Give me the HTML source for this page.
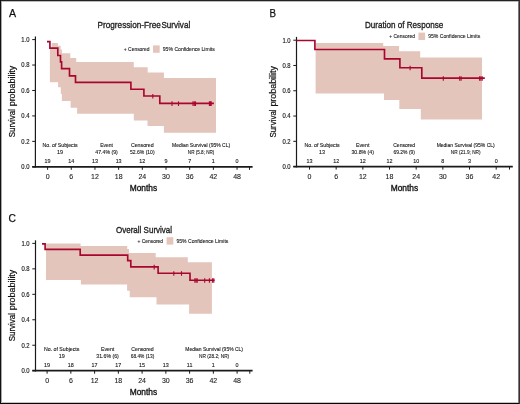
<!DOCTYPE html>
<html><head><meta charset="utf-8"><style>
html,body{margin:0;padding:0;background:#fff;width:520px;height:404px;overflow:hidden;}
svg{display:block;font-family:"Liberation Sans", sans-serif;will-change:transform;}
</style></head><body>
<svg width="520" height="404" viewBox="0 0 520 404" font-family='"Liberation Sans", sans-serif'>
<rect x="0" y="0" width="520" height="404" fill="#fff"/>
<polygon points="49.9,82.2 49.9,47.9 51.7,47.9 51.7,43.1 57.9,43.1 57.9,45.8 60.6,45.8 60.6,49.4 61.9,49.4 61.9,53.2 70.3,53.2 70.3,58 76.2,58 76.2,62 133.8,62 133.8,67.3 147.7,67.3 147.7,72.6 163.9,72.6 163.9,78 216,78 216,132.8 163.9,132.8 163.9,125.9 147.5,125.9 147.5,120.4 133.8,120.4 133.8,113.8 77.1,113.8 77.1,107.7 70.6,107.7 70.6,100.9 61.9,100.9 61.9,94 60.8,94 60.8,87.3 58.1,87.3 58.1,82.2" fill="#e4c5bb"/>
<line x1="35.4" y1="36.4" x2="35.4" y2="167.60000000000002" stroke="#1a1a1a" stroke-width="1.2"/>
<line x1="32.199999999999996" y1="166.8" x2="252.6" y2="166.8" stroke="#1a1a1a" stroke-width="1.7"/>
<line x1="32.199999999999996" y1="39.60" x2="35.4" y2="39.60" stroke="#1a1a1a" stroke-width="1"/>
<text x="29.5" y="41.9" font-size="6.6" text-anchor="end" fill="#1a1a1a" stroke="#1a1a1a" stroke-width="0.15" textLength="8.2" lengthAdjust="spacingAndGlyphs">1.0</text>
<line x1="32.199999999999996" y1="65.04" x2="35.4" y2="65.04" stroke="#1a1a1a" stroke-width="1"/>
<text x="29.5" y="67.34" font-size="6.6" text-anchor="end" fill="#1a1a1a" stroke="#1a1a1a" stroke-width="0.15" textLength="8.2" lengthAdjust="spacingAndGlyphs">0.8</text>
<line x1="32.199999999999996" y1="90.48" x2="35.4" y2="90.48" stroke="#1a1a1a" stroke-width="1"/>
<text x="29.5" y="92.78000000000002" font-size="6.6" text-anchor="end" fill="#1a1a1a" stroke="#1a1a1a" stroke-width="0.15" textLength="8.2" lengthAdjust="spacingAndGlyphs">0.6</text>
<line x1="32.199999999999996" y1="115.92" x2="35.4" y2="115.92" stroke="#1a1a1a" stroke-width="1"/>
<text x="29.5" y="118.22000000000001" font-size="6.6" text-anchor="end" fill="#1a1a1a" stroke="#1a1a1a" stroke-width="0.15" textLength="8.2" lengthAdjust="spacingAndGlyphs">0.4</text>
<line x1="32.199999999999996" y1="141.36" x2="35.4" y2="141.36" stroke="#1a1a1a" stroke-width="1"/>
<text x="29.5" y="143.66000000000003" font-size="6.6" text-anchor="end" fill="#1a1a1a" stroke="#1a1a1a" stroke-width="0.15" textLength="8.2" lengthAdjust="spacingAndGlyphs">0.2</text>
<line x1="32.199999999999996" y1="166.80" x2="35.4" y2="166.80" stroke="#1a1a1a" stroke-width="1"/>
<text x="29.5" y="169.10000000000002" font-size="6.6" text-anchor="end" fill="#1a1a1a" stroke="#1a1a1a" stroke-width="0.15" textLength="8.2" lengthAdjust="spacingAndGlyphs">0.0</text>
<line x1="47.60" y1="166.8" x2="47.60" y2="169.8" stroke="#1a1a1a" stroke-width="1"/>
<text x="47.60" y="178.9" font-size="7.0" text-anchor="middle" fill="#1a1a1a" stroke="#1a1a1a" stroke-width="0.1">0</text>
<line x1="71.28" y1="166.8" x2="71.28" y2="169.8" stroke="#1a1a1a" stroke-width="1"/>
<text x="71.28" y="178.9" font-size="7.0" text-anchor="middle" fill="#1a1a1a" stroke="#1a1a1a" stroke-width="0.1">6</text>
<line x1="94.96" y1="166.8" x2="94.96" y2="169.8" stroke="#1a1a1a" stroke-width="1"/>
<text x="94.96" y="178.9" font-size="7.0" text-anchor="middle" fill="#1a1a1a" stroke="#1a1a1a" stroke-width="0.1">12</text>
<line x1="118.64" y1="166.8" x2="118.64" y2="169.8" stroke="#1a1a1a" stroke-width="1"/>
<text x="118.64" y="178.9" font-size="7.0" text-anchor="middle" fill="#1a1a1a" stroke="#1a1a1a" stroke-width="0.1">18</text>
<line x1="142.32" y1="166.8" x2="142.32" y2="169.8" stroke="#1a1a1a" stroke-width="1"/>
<text x="142.32" y="178.9" font-size="7.0" text-anchor="middle" fill="#1a1a1a" stroke="#1a1a1a" stroke-width="0.1">24</text>
<line x1="166.00" y1="166.8" x2="166.00" y2="169.8" stroke="#1a1a1a" stroke-width="1"/>
<text x="166.00" y="178.9" font-size="7.0" text-anchor="middle" fill="#1a1a1a" stroke="#1a1a1a" stroke-width="0.1">30</text>
<line x1="189.68" y1="166.8" x2="189.68" y2="169.8" stroke="#1a1a1a" stroke-width="1"/>
<text x="189.68" y="178.9" font-size="7.0" text-anchor="middle" fill="#1a1a1a" stroke="#1a1a1a" stroke-width="0.1">36</text>
<line x1="213.36" y1="166.8" x2="213.36" y2="169.8" stroke="#1a1a1a" stroke-width="1"/>
<text x="213.36" y="178.9" font-size="7.0" text-anchor="middle" fill="#1a1a1a" stroke="#1a1a1a" stroke-width="0.1">42</text>
<line x1="237.04" y1="166.8" x2="237.04" y2="169.8" stroke="#1a1a1a" stroke-width="1"/>
<text x="237.04" y="178.9" font-size="7.0" text-anchor="middle" fill="#1a1a1a" stroke="#1a1a1a" stroke-width="0.1">48</text>
<line x1="249.5" y1="166.8" x2="249.5" y2="169.8" stroke="#1a1a1a" stroke-width="1"/>
<text x="47.60" y="162.70000000000002" font-size="5.4" text-anchor="middle" fill="#1a1a1a" stroke="#1a1a1a" stroke-width="0.12">19</text>
<text x="71.28" y="162.70000000000002" font-size="5.4" text-anchor="middle" fill="#1a1a1a" stroke="#1a1a1a" stroke-width="0.12">14</text>
<text x="94.96" y="162.70000000000002" font-size="5.4" text-anchor="middle" fill="#1a1a1a" stroke="#1a1a1a" stroke-width="0.12">13</text>
<text x="118.64" y="162.70000000000002" font-size="5.4" text-anchor="middle" fill="#1a1a1a" stroke="#1a1a1a" stroke-width="0.12">13</text>
<text x="142.32" y="162.70000000000002" font-size="5.4" text-anchor="middle" fill="#1a1a1a" stroke="#1a1a1a" stroke-width="0.12">12</text>
<text x="166.00" y="162.70000000000002" font-size="5.4" text-anchor="middle" fill="#1a1a1a" stroke="#1a1a1a" stroke-width="0.12">9</text>
<text x="189.68" y="162.70000000000002" font-size="5.4" text-anchor="middle" fill="#1a1a1a" stroke="#1a1a1a" stroke-width="0.12">7</text>
<text x="213.36" y="162.70000000000002" font-size="5.4" text-anchor="middle" fill="#1a1a1a" stroke="#1a1a1a" stroke-width="0.12">1</text>
<text x="237.04" y="162.70000000000002" font-size="5.4" text-anchor="middle" fill="#1a1a1a" stroke="#1a1a1a" stroke-width="0.12">0</text>
<text x="60.1" y="147.10000000000002" font-size="5.3" text-anchor="middle" fill="#1a1a1a" stroke="#1a1a1a" stroke-width="0.12" textLength="35.2" lengthAdjust="spacingAndGlyphs">No. of Subjects</text>
<text x="60.1" y="153.9" font-size="5.4" text-anchor="middle" fill="#1a1a1a" stroke="#1a1a1a" stroke-width="0.12">19</text>
<text x="106.6" y="147.10000000000002" font-size="5.3" text-anchor="middle" fill="#1a1a1a" stroke="#1a1a1a" stroke-width="0.12" textLength="12.8" lengthAdjust="spacingAndGlyphs">Event</text>
<text x="106.6" y="153.9" font-size="5.4" text-anchor="middle" fill="#1a1a1a" stroke="#1a1a1a" stroke-width="0.12" textLength="22.5" lengthAdjust="spacingAndGlyphs">47.4% (9)</text>
<text x="142.3" y="147.10000000000002" font-size="5.3" text-anchor="middle" fill="#1a1a1a" stroke="#1a1a1a" stroke-width="0.12" textLength="22.8" lengthAdjust="spacingAndGlyphs">Censored</text>
<text x="142.3" y="153.9" font-size="5.4" text-anchor="middle" fill="#1a1a1a" stroke="#1a1a1a" stroke-width="0.12" textLength="24.6" lengthAdjust="spacingAndGlyphs">52.6% (10)</text>
<text x="201.1" y="147.10000000000002" font-size="5.3" text-anchor="middle" fill="#1a1a1a" stroke="#1a1a1a" stroke-width="0.12" textLength="58.1" lengthAdjust="spacingAndGlyphs">Median Survival (95% CL)</text>
<text x="201.1" y="153.9" font-size="5.4" text-anchor="middle" fill="#1a1a1a" stroke="#1a1a1a" stroke-width="0.12" textLength="26.5" lengthAdjust="spacingAndGlyphs">NR (5.8; NR)</text>
<g transform="translate(0,0.25)">
<path d="M47,41.4 H49.9 V47.9 H57.8 V55.2 H60.5 V61.6 H61.6 V68.4 H69.5 V75.6 H75.5 V82.1 H130.9 V89 H143.9 V95.7 H159.8 V103.1 H213.9" fill="none" stroke="#a8062f" stroke-width="1.65" stroke-linejoin="miter"/>
<line x1="152.8" y1="93.7" x2="152.8" y2="98.3" stroke="#a8062f" stroke-width="1.1"/>
<line x1="172" y1="101.1" x2="172" y2="105.69999999999999" stroke="#a8062f" stroke-width="1.1"/>
<line x1="178.5" y1="101.1" x2="178.5" y2="105.69999999999999" stroke="#a8062f" stroke-width="1.1"/>
<line x1="193" y1="101.1" x2="193" y2="105.69999999999999" stroke="#a8062f" stroke-width="1.1"/>
<line x1="194.3" y1="101.1" x2="194.3" y2="105.69999999999999" stroke="#a8062f" stroke-width="1.1"/>
<line x1="195.5" y1="101.1" x2="195.5" y2="105.69999999999999" stroke="#a8062f" stroke-width="1.1"/>
<line x1="209.4" y1="101.1" x2="209.4" y2="105.69999999999999" stroke="#a8062f" stroke-width="1.1"/>
<line x1="210.4" y1="101.1" x2="210.4" y2="105.69999999999999" stroke="#a8062f" stroke-width="1.1"/>
<line x1="211.2" y1="101.1" x2="211.2" y2="105.69999999999999" stroke="#a8062f" stroke-width="1.1"/>
</g>
<text x="97.6" y="28.4" font-size="9.8" text-anchor="start" fill="#222" stroke="#222" stroke-width="0.35" textLength="63.2" lengthAdjust="spacingAndGlyphs">Progression-Free</text>
<text x="161.4" y="28.4" font-size="9.8" text-anchor="start" fill="#222" stroke="#222" stroke-width="0.35" textLength="28.8" lengthAdjust="spacingAndGlyphs">Survival</text>
<text x="9.0" y="17.3" font-size="11.0" text-anchor="start" fill="#111" stroke="#111" stroke-width="0.25" textLength="7.1" lengthAdjust="spacingAndGlyphs">A</text>
<text x="123.8" y="51.1" font-size="5.7" text-anchor="start" fill="#1a1a1a" stroke="#1a1a1a" stroke-width="0.12" textLength="25.7" lengthAdjust="spacingAndGlyphs">+ Censored</text>
<rect x="153.0" y="45.400000000000006" width="6.7" height="7.4" fill="#e4c5bb"/>
<text x="162.8" y="51.1" font-size="5.7" text-anchor="start" fill="#1a1a1a" stroke="#1a1a1a" stroke-width="0.12" textLength="52" lengthAdjust="spacingAndGlyphs">95% Confidence Limits</text>
<text transform="translate(14.9,137.3) rotate(-90)" x="0" y="0" font-size="8.9" fill="#111" stroke="#111" stroke-width="0.22" textLength="28.2" lengthAdjust="spacingAndGlyphs">Survival</text>
<text transform="translate(14.9,106.30000000000001) rotate(-90)" x="0" y="0" font-size="8.9" fill="#111" stroke="#111" stroke-width="0.22" textLength="40.6" lengthAdjust="spacingAndGlyphs">probability</text>
<text x="129.7" y="190.8" font-size="9.3" text-anchor="start" fill="#111" stroke="#111" stroke-width="0.35" textLength="27.5" lengthAdjust="spacingAndGlyphs">Months</text>
<polygon points="315.6,93.5 315.6,42.9 383.2,42.9 383.2,46 399.1,46 399.1,51.2 420.2,51.2 420.2,57.4 482,57.4 482,119.5 420.8,119.5 420.8,109.1 399.3,109.1 399.3,99.9 384,99.9 384,93.5" fill="#e4c5bb"/>
<line x1="296.5" y1="36.9" x2="296.5" y2="167.4" stroke="#1a1a1a" stroke-width="1.2"/>
<line x1="293.3" y1="166.6" x2="512.8" y2="166.6" stroke="#1a1a1a" stroke-width="1.7"/>
<line x1="293.3" y1="40.20" x2="296.5" y2="40.20" stroke="#1a1a1a" stroke-width="1"/>
<text x="290.6" y="42.5" font-size="6.6" text-anchor="end" fill="#1a1a1a" stroke="#1a1a1a" stroke-width="0.15" textLength="8.2" lengthAdjust="spacingAndGlyphs">1.0</text>
<line x1="293.3" y1="65.48" x2="296.5" y2="65.48" stroke="#1a1a1a" stroke-width="1"/>
<text x="290.6" y="67.78" font-size="6.6" text-anchor="end" fill="#1a1a1a" stroke="#1a1a1a" stroke-width="0.15" textLength="8.2" lengthAdjust="spacingAndGlyphs">0.8</text>
<line x1="293.3" y1="90.76" x2="296.5" y2="90.76" stroke="#1a1a1a" stroke-width="1"/>
<text x="290.6" y="93.05999999999999" font-size="6.6" text-anchor="end" fill="#1a1a1a" stroke="#1a1a1a" stroke-width="0.15" textLength="8.2" lengthAdjust="spacingAndGlyphs">0.6</text>
<line x1="293.3" y1="116.04" x2="296.5" y2="116.04" stroke="#1a1a1a" stroke-width="1"/>
<text x="290.6" y="118.34" font-size="6.6" text-anchor="end" fill="#1a1a1a" stroke="#1a1a1a" stroke-width="0.15" textLength="8.2" lengthAdjust="spacingAndGlyphs">0.4</text>
<line x1="293.3" y1="141.32" x2="296.5" y2="141.32" stroke="#1a1a1a" stroke-width="1"/>
<text x="290.6" y="143.62" font-size="6.6" text-anchor="end" fill="#1a1a1a" stroke="#1a1a1a" stroke-width="0.15" textLength="8.2" lengthAdjust="spacingAndGlyphs">0.2</text>
<line x1="293.3" y1="166.60" x2="296.5" y2="166.60" stroke="#1a1a1a" stroke-width="1"/>
<text x="290.6" y="168.90000000000003" font-size="6.6" text-anchor="end" fill="#1a1a1a" stroke="#1a1a1a" stroke-width="0.15" textLength="8.2" lengthAdjust="spacingAndGlyphs">0.0</text>
<line x1="309.50" y1="166.6" x2="309.50" y2="169.6" stroke="#1a1a1a" stroke-width="1"/>
<text x="309.50" y="178.7" font-size="7.0" text-anchor="middle" fill="#1a1a1a" stroke="#1a1a1a" stroke-width="0.1">0</text>
<line x1="336.17" y1="166.6" x2="336.17" y2="169.6" stroke="#1a1a1a" stroke-width="1"/>
<text x="336.17" y="178.7" font-size="7.0" text-anchor="middle" fill="#1a1a1a" stroke="#1a1a1a" stroke-width="0.1">6</text>
<line x1="362.84" y1="166.6" x2="362.84" y2="169.6" stroke="#1a1a1a" stroke-width="1"/>
<text x="362.84" y="178.7" font-size="7.0" text-anchor="middle" fill="#1a1a1a" stroke="#1a1a1a" stroke-width="0.1">12</text>
<line x1="389.51" y1="166.6" x2="389.51" y2="169.6" stroke="#1a1a1a" stroke-width="1"/>
<text x="389.51" y="178.7" font-size="7.0" text-anchor="middle" fill="#1a1a1a" stroke="#1a1a1a" stroke-width="0.1">18</text>
<line x1="416.18" y1="166.6" x2="416.18" y2="169.6" stroke="#1a1a1a" stroke-width="1"/>
<text x="416.18" y="178.7" font-size="7.0" text-anchor="middle" fill="#1a1a1a" stroke="#1a1a1a" stroke-width="0.1">24</text>
<line x1="442.85" y1="166.6" x2="442.85" y2="169.6" stroke="#1a1a1a" stroke-width="1"/>
<text x="442.85" y="178.7" font-size="7.0" text-anchor="middle" fill="#1a1a1a" stroke="#1a1a1a" stroke-width="0.1">30</text>
<line x1="469.52" y1="166.6" x2="469.52" y2="169.6" stroke="#1a1a1a" stroke-width="1"/>
<text x="469.52" y="178.7" font-size="7.0" text-anchor="middle" fill="#1a1a1a" stroke="#1a1a1a" stroke-width="0.1">36</text>
<line x1="496.19" y1="166.6" x2="496.19" y2="169.6" stroke="#1a1a1a" stroke-width="1"/>
<text x="496.19" y="178.7" font-size="7.0" text-anchor="middle" fill="#1a1a1a" stroke="#1a1a1a" stroke-width="0.1">42</text>
<line x1="509.5" y1="166.6" x2="509.5" y2="169.6" stroke="#1a1a1a" stroke-width="1"/>
<text x="309.50" y="162.5" font-size="5.4" text-anchor="middle" fill="#1a1a1a" stroke="#1a1a1a" stroke-width="0.12">13</text>
<text x="336.17" y="162.5" font-size="5.4" text-anchor="middle" fill="#1a1a1a" stroke="#1a1a1a" stroke-width="0.12">12</text>
<text x="362.84" y="162.5" font-size="5.4" text-anchor="middle" fill="#1a1a1a" stroke="#1a1a1a" stroke-width="0.12">12</text>
<text x="389.51" y="162.5" font-size="5.4" text-anchor="middle" fill="#1a1a1a" stroke="#1a1a1a" stroke-width="0.12">12</text>
<text x="416.18" y="162.5" font-size="5.4" text-anchor="middle" fill="#1a1a1a" stroke="#1a1a1a" stroke-width="0.12">10</text>
<text x="442.85" y="162.5" font-size="5.4" text-anchor="middle" fill="#1a1a1a" stroke="#1a1a1a" stroke-width="0.12">8</text>
<text x="469.52" y="162.5" font-size="5.4" text-anchor="middle" fill="#1a1a1a" stroke="#1a1a1a" stroke-width="0.12">3</text>
<text x="496.19" y="162.5" font-size="5.4" text-anchor="middle" fill="#1a1a1a" stroke="#1a1a1a" stroke-width="0.12">0</text>
<text x="322.1" y="146.9" font-size="5.3" text-anchor="middle" fill="#1a1a1a" stroke="#1a1a1a" stroke-width="0.12" textLength="35.2" lengthAdjust="spacingAndGlyphs">No. of Subjects</text>
<text x="322.1" y="153.7" font-size="5.4" text-anchor="middle" fill="#1a1a1a" stroke="#1a1a1a" stroke-width="0.12">13</text>
<text x="362.7" y="146.9" font-size="5.3" text-anchor="middle" fill="#1a1a1a" stroke="#1a1a1a" stroke-width="0.12" textLength="13.4" lengthAdjust="spacingAndGlyphs">Event</text>
<text x="362.7" y="153.7" font-size="5.4" text-anchor="middle" fill="#1a1a1a" stroke="#1a1a1a" stroke-width="0.12" textLength="22.6" lengthAdjust="spacingAndGlyphs">30.8% (4)</text>
<text x="404.2" y="146.9" font-size="5.3" text-anchor="middle" fill="#1a1a1a" stroke="#1a1a1a" stroke-width="0.12" textLength="22" lengthAdjust="spacingAndGlyphs">Censored</text>
<text x="404.2" y="153.7" font-size="5.4" text-anchor="middle" fill="#1a1a1a" stroke="#1a1a1a" stroke-width="0.12" textLength="21.6" lengthAdjust="spacingAndGlyphs">69.2% (9)</text>
<text x="465.7" y="146.9" font-size="5.3" text-anchor="middle" fill="#1a1a1a" stroke="#1a1a1a" stroke-width="0.12" textLength="58.1" lengthAdjust="spacingAndGlyphs">Median Survival (95% CL)</text>
<text x="465.7" y="153.7" font-size="5.4" text-anchor="middle" fill="#1a1a1a" stroke="#1a1a1a" stroke-width="0.12" textLength="29.7" lengthAdjust="spacingAndGlyphs">NR (21.9; NR)</text>
<g transform="translate(0,0.15)">
<path d="M296.5,40.3 H314.9 V49.3 H384.5 V58.7 H399.9 V67.6 H421.8 V78 H484.8" fill="none" stroke="#a8062f" stroke-width="1.65" stroke-linejoin="miter"/>
<line x1="410.1" y1="65.6" x2="410.1" y2="70.19999999999999" stroke="#a8062f" stroke-width="1.1"/>
<line x1="443.3" y1="76.0" x2="443.3" y2="80.6" stroke="#a8062f" stroke-width="1.1"/>
<line x1="459.7" y1="76.0" x2="459.7" y2="80.6" stroke="#a8062f" stroke-width="1.1"/>
<line x1="461.1" y1="76.0" x2="461.1" y2="80.6" stroke="#a8062f" stroke-width="1.1"/>
<line x1="479.6" y1="76.0" x2="479.6" y2="80.6" stroke="#a8062f" stroke-width="1.1"/>
<line x1="480.9" y1="76.0" x2="480.9" y2="80.6" stroke="#a8062f" stroke-width="1.1"/>
<line x1="482.2" y1="76.0" x2="482.2" y2="80.6" stroke="#a8062f" stroke-width="1.1"/>
</g>
<text x="364.9" y="28.2" font-size="9.8" text-anchor="start" fill="#222" stroke="#222" stroke-width="0.35" textLength="78.3" lengthAdjust="spacingAndGlyphs">Duration of Response</text>
<text x="269.4" y="17.4" font-size="11.0" text-anchor="start" fill="#111" stroke="#111" stroke-width="0.25" textLength="6.5" lengthAdjust="spacingAndGlyphs">B</text>
<text x="389.2" y="38.3" font-size="5.7" text-anchor="start" fill="#1a1a1a" stroke="#1a1a1a" stroke-width="0.12" textLength="25.7" lengthAdjust="spacingAndGlyphs">+ Censored</text>
<rect x="418.4" y="32.6" width="6.7" height="7.4" fill="#e4c5bb"/>
<text x="428.2" y="38.3" font-size="5.7" text-anchor="start" fill="#1a1a1a" stroke="#1a1a1a" stroke-width="0.12" textLength="52" lengthAdjust="spacingAndGlyphs">95% Confidence Limits</text>
<text transform="translate(276.2,137.6) rotate(-90)" x="0" y="0" font-size="8.9" fill="#111" stroke="#111" stroke-width="0.22" textLength="28.2" lengthAdjust="spacingAndGlyphs">Survival</text>
<text transform="translate(276.2,106.6) rotate(-90)" x="0" y="0" font-size="8.9" fill="#111" stroke="#111" stroke-width="0.22" textLength="40.6" lengthAdjust="spacingAndGlyphs">probability</text>
<text x="390.7" y="190.8" font-size="9.3" text-anchor="start" fill="#111" stroke="#111" stroke-width="0.35" textLength="27.5" lengthAdjust="spacingAndGlyphs">Months</text>
<polygon points="46,279.9 46,243.5 80.6,243.5 80.6,245.9 127.2,245.9 127.2,248.9 129,248.9 129,253.1 155.7,253.1 155.7,257.3 187.8,257.3 187.8,262.3 211.9,262.3 211.9,313.8 189.1,313.8 189.1,304.6 156.5,304.6 156.5,297.2 129.7,297.2 129.7,290.8 127.1,290.8 127.1,284.5 80.9,284.5 80.9,279.9" fill="#e4c5bb"/>
<line x1="35.5" y1="240.3" x2="35.5" y2="371.5" stroke="#1a1a1a" stroke-width="1.2"/>
<line x1="32.3" y1="370.7" x2="252.6" y2="370.7" stroke="#1a1a1a" stroke-width="1.7"/>
<line x1="32.3" y1="243.40" x2="35.5" y2="243.40" stroke="#1a1a1a" stroke-width="1"/>
<text x="29.6" y="245.70000000000002" font-size="6.6" text-anchor="end" fill="#1a1a1a" stroke="#1a1a1a" stroke-width="0.15" textLength="8.2" lengthAdjust="spacingAndGlyphs">1.0</text>
<line x1="32.3" y1="268.86" x2="35.5" y2="268.86" stroke="#1a1a1a" stroke-width="1"/>
<text x="29.6" y="271.16" font-size="6.6" text-anchor="end" fill="#1a1a1a" stroke="#1a1a1a" stroke-width="0.15" textLength="8.2" lengthAdjust="spacingAndGlyphs">0.8</text>
<line x1="32.3" y1="294.32" x2="35.5" y2="294.32" stroke="#1a1a1a" stroke-width="1"/>
<text x="29.6" y="296.62" font-size="6.6" text-anchor="end" fill="#1a1a1a" stroke="#1a1a1a" stroke-width="0.15" textLength="8.2" lengthAdjust="spacingAndGlyphs">0.6</text>
<line x1="32.3" y1="319.78" x2="35.5" y2="319.78" stroke="#1a1a1a" stroke-width="1"/>
<text x="29.6" y="322.08" font-size="6.6" text-anchor="end" fill="#1a1a1a" stroke="#1a1a1a" stroke-width="0.15" textLength="8.2" lengthAdjust="spacingAndGlyphs">0.4</text>
<line x1="32.3" y1="345.24" x2="35.5" y2="345.24" stroke="#1a1a1a" stroke-width="1"/>
<text x="29.6" y="347.54" font-size="6.6" text-anchor="end" fill="#1a1a1a" stroke="#1a1a1a" stroke-width="0.15" textLength="8.2" lengthAdjust="spacingAndGlyphs">0.2</text>
<line x1="32.3" y1="370.70" x2="35.5" y2="370.70" stroke="#1a1a1a" stroke-width="1"/>
<text x="29.6" y="373.0" font-size="6.6" text-anchor="end" fill="#1a1a1a" stroke="#1a1a1a" stroke-width="0.15" textLength="8.2" lengthAdjust="spacingAndGlyphs">0.0</text>
<line x1="47.10" y1="370.7" x2="47.10" y2="373.7" stroke="#1a1a1a" stroke-width="1"/>
<text x="47.10" y="382.8" font-size="7.0" text-anchor="middle" fill="#1a1a1a" stroke="#1a1a1a" stroke-width="0.1">0</text>
<line x1="70.85" y1="370.7" x2="70.85" y2="373.7" stroke="#1a1a1a" stroke-width="1"/>
<text x="70.85" y="382.8" font-size="7.0" text-anchor="middle" fill="#1a1a1a" stroke="#1a1a1a" stroke-width="0.1">6</text>
<line x1="94.60" y1="370.7" x2="94.60" y2="373.7" stroke="#1a1a1a" stroke-width="1"/>
<text x="94.60" y="382.8" font-size="7.0" text-anchor="middle" fill="#1a1a1a" stroke="#1a1a1a" stroke-width="0.1">12</text>
<line x1="118.35" y1="370.7" x2="118.35" y2="373.7" stroke="#1a1a1a" stroke-width="1"/>
<text x="118.35" y="382.8" font-size="7.0" text-anchor="middle" fill="#1a1a1a" stroke="#1a1a1a" stroke-width="0.1">18</text>
<line x1="142.10" y1="370.7" x2="142.10" y2="373.7" stroke="#1a1a1a" stroke-width="1"/>
<text x="142.10" y="382.8" font-size="7.0" text-anchor="middle" fill="#1a1a1a" stroke="#1a1a1a" stroke-width="0.1">24</text>
<line x1="165.85" y1="370.7" x2="165.85" y2="373.7" stroke="#1a1a1a" stroke-width="1"/>
<text x="165.85" y="382.8" font-size="7.0" text-anchor="middle" fill="#1a1a1a" stroke="#1a1a1a" stroke-width="0.1">30</text>
<line x1="189.60" y1="370.7" x2="189.60" y2="373.7" stroke="#1a1a1a" stroke-width="1"/>
<text x="189.60" y="382.8" font-size="7.0" text-anchor="middle" fill="#1a1a1a" stroke="#1a1a1a" stroke-width="0.1">36</text>
<line x1="213.35" y1="370.7" x2="213.35" y2="373.7" stroke="#1a1a1a" stroke-width="1"/>
<text x="213.35" y="382.8" font-size="7.0" text-anchor="middle" fill="#1a1a1a" stroke="#1a1a1a" stroke-width="0.1">42</text>
<line x1="237.10" y1="370.7" x2="237.10" y2="373.7" stroke="#1a1a1a" stroke-width="1"/>
<text x="237.10" y="382.8" font-size="7.0" text-anchor="middle" fill="#1a1a1a" stroke="#1a1a1a" stroke-width="0.1">48</text>
<line x1="249.8" y1="370.7" x2="249.8" y2="373.7" stroke="#1a1a1a" stroke-width="1"/>
<text x="47.10" y="366.59999999999997" font-size="5.4" text-anchor="middle" fill="#1a1a1a" stroke="#1a1a1a" stroke-width="0.12">19</text>
<text x="70.85" y="366.59999999999997" font-size="5.4" text-anchor="middle" fill="#1a1a1a" stroke="#1a1a1a" stroke-width="0.12">18</text>
<text x="94.60" y="366.59999999999997" font-size="5.4" text-anchor="middle" fill="#1a1a1a" stroke="#1a1a1a" stroke-width="0.12">17</text>
<text x="118.35" y="366.59999999999997" font-size="5.4" text-anchor="middle" fill="#1a1a1a" stroke="#1a1a1a" stroke-width="0.12">17</text>
<text x="142.10" y="366.59999999999997" font-size="5.4" text-anchor="middle" fill="#1a1a1a" stroke="#1a1a1a" stroke-width="0.12">15</text>
<text x="165.85" y="366.59999999999997" font-size="5.4" text-anchor="middle" fill="#1a1a1a" stroke="#1a1a1a" stroke-width="0.12">13</text>
<text x="189.60" y="366.59999999999997" font-size="5.4" text-anchor="middle" fill="#1a1a1a" stroke="#1a1a1a" stroke-width="0.12">11</text>
<text x="213.35" y="366.59999999999997" font-size="5.4" text-anchor="middle" fill="#1a1a1a" stroke="#1a1a1a" stroke-width="0.12">1</text>
<text x="237.10" y="366.59999999999997" font-size="5.4" text-anchor="middle" fill="#1a1a1a" stroke="#1a1a1a" stroke-width="0.12">0</text>
<text x="61.7" y="351.0" font-size="5.3" text-anchor="middle" fill="#1a1a1a" stroke="#1a1a1a" stroke-width="0.12" textLength="35.5" lengthAdjust="spacingAndGlyphs">No. of Subjects</text>
<text x="61.7" y="357.8" font-size="5.4" text-anchor="middle" fill="#1a1a1a" stroke="#1a1a1a" stroke-width="0.12">19</text>
<text x="107.6" y="351.0" font-size="5.3" text-anchor="middle" fill="#1a1a1a" stroke="#1a1a1a" stroke-width="0.12" textLength="13.4" lengthAdjust="spacingAndGlyphs">Event</text>
<text x="107.6" y="357.8" font-size="5.4" text-anchor="middle" fill="#1a1a1a" stroke="#1a1a1a" stroke-width="0.12" textLength="22.5" lengthAdjust="spacingAndGlyphs">31.6% (6)</text>
<text x="142.5" y="351.0" font-size="5.3" text-anchor="middle" fill="#1a1a1a" stroke="#1a1a1a" stroke-width="0.12" textLength="22.4" lengthAdjust="spacingAndGlyphs">Censored</text>
<text x="142.5" y="357.8" font-size="5.4" text-anchor="middle" fill="#1a1a1a" stroke="#1a1a1a" stroke-width="0.12" textLength="23.5" lengthAdjust="spacingAndGlyphs">68.4% (13)</text>
<text x="214.1" y="351.0" font-size="5.3" text-anchor="middle" fill="#1a1a1a" stroke="#1a1a1a" stroke-width="0.12" textLength="57.7" lengthAdjust="spacingAndGlyphs">Median Survival (95% CL)</text>
<text x="214.1" y="357.8" font-size="5.4" text-anchor="middle" fill="#1a1a1a" stroke="#1a1a1a" stroke-width="0.12" textLength="30.1" lengthAdjust="spacingAndGlyphs">NR (28.2; NR)</text>
<g transform="translate(0,0)">
<path d="M42,243.8 H45.1 V249.3 H80.2 V255.1 H127.7 V260.6 H130.8 V266.8 H158.1 V273.2 H190 V280.2 H214.6" fill="none" stroke="#a8062f" stroke-width="1.65" stroke-linejoin="miter"/>
<line x1="154.2" y1="264.8" x2="154.2" y2="269.40000000000003" stroke="#a8062f" stroke-width="1.1"/>
<line x1="173.8" y1="271.2" x2="173.8" y2="275.8" stroke="#a8062f" stroke-width="1.1"/>
<line x1="181.5" y1="271.2" x2="181.5" y2="275.8" stroke="#a8062f" stroke-width="1.1"/>
<line x1="194.9" y1="278.2" x2="194.9" y2="282.8" stroke="#a8062f" stroke-width="1.1"/>
<line x1="196.1" y1="278.2" x2="196.1" y2="282.8" stroke="#a8062f" stroke-width="1.1"/>
<line x1="197.2" y1="278.2" x2="197.2" y2="282.8" stroke="#a8062f" stroke-width="1.1"/>
<line x1="204.7" y1="278.2" x2="204.7" y2="282.8" stroke="#a8062f" stroke-width="1.1"/>
<line x1="209.4" y1="278.2" x2="209.4" y2="282.8" stroke="#a8062f" stroke-width="1.1"/>
<line x1="212.6" y1="278.2" x2="212.6" y2="282.8" stroke="#a8062f" stroke-width="1.1"/>
<line x1="213.8" y1="278.2" x2="213.8" y2="282.8" stroke="#a8062f" stroke-width="1.1"/>
</g>
<text x="116" y="232.7" font-size="9.8" text-anchor="start" fill="#222" stroke="#222" stroke-width="0.35" textLength="56.1" lengthAdjust="spacingAndGlyphs">Overall Survival</text>
<text x="8.6" y="222.3" font-size="11.0" text-anchor="start" fill="#111" stroke="#111" stroke-width="0.25" textLength="7.4" lengthAdjust="spacingAndGlyphs">C</text>
<text x="137.4" y="242.9" font-size="5.7" text-anchor="start" fill="#1a1a1a" stroke="#1a1a1a" stroke-width="0.12" textLength="25.7" lengthAdjust="spacingAndGlyphs">+ Censored</text>
<rect x="166.6" y="237.2" width="6.7" height="7.4" fill="#e4c5bb"/>
<text x="176.4" y="242.9" font-size="5.7" text-anchor="start" fill="#1a1a1a" stroke="#1a1a1a" stroke-width="0.12" textLength="52" lengthAdjust="spacingAndGlyphs">95% Confidence Limits</text>
<text transform="translate(14.9,341.3) rotate(-90)" x="0" y="0" font-size="8.9" fill="#111" stroke="#111" stroke-width="0.22" textLength="28.2" lengthAdjust="spacingAndGlyphs">Survival</text>
<text transform="translate(14.9,310.3) rotate(-90)" x="0" y="0" font-size="8.9" fill="#111" stroke="#111" stroke-width="0.22" textLength="40.6" lengthAdjust="spacingAndGlyphs">probability</text>
<text x="129.7" y="394.6" font-size="9.3" text-anchor="start" fill="#111" stroke="#111" stroke-width="0.35" textLength="27.5" lengthAdjust="spacingAndGlyphs">Months</text>
<g shape-rendering="crispEdges">
<rect x="0" y="1" width="520" height="1" fill="#bbb"/>
<rect x="1" y="0" width="1" height="404" fill="#a8a8a8"/>
<rect x="0" y="402" width="520" height="1" fill="#c4c4c4"/>
<rect x="518" y="0" width="1" height="404" fill="#7a7a7a"/>
<rect x="0" y="0" width="520" height="1" fill="#222"/>
<rect x="0" y="0" width="1" height="404" fill="#111"/>
<rect x="0" y="403" width="520" height="1" fill="#080808"/>
<rect x="519" y="0" width="1" height="404" fill="#333"/>
</g>
</svg>
</body></html>
